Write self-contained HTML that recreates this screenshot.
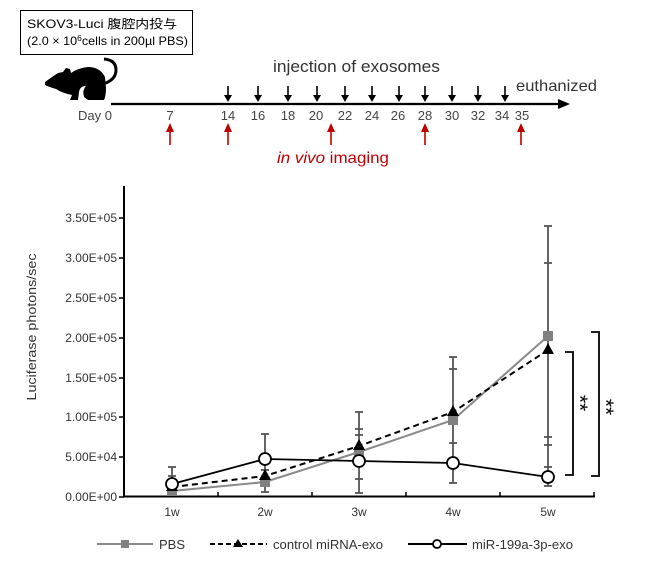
<!DOCTYPE html>
<html><head><meta charset="utf-8"><style>
html,body{margin:0;padding:0;background:#fff;}
svg{display:block;}
text{font-family:"Liberation Sans","Noto Sans CJK JP",sans-serif;}
</style></head><body>
<svg width="650" height="570" viewBox="0 0 650 570" xmlns="http://www.w3.org/2000/svg">
<rect width="650" height="570" fill="#fff"/>
<!-- info box -->
<rect x="20.5" y="10.5" width="172" height="44" fill="#fff" stroke="#000" stroke-width="1"/>
<text x="27" y="28" font-size="12" fill="#000" textLength="150" lengthAdjust="spacingAndGlyphs">SKOV3-Luci 腹腔内投与</text>
<text x="27" y="45" font-size="12" fill="#000" textLength="161" lengthAdjust="spacingAndGlyphs">(2.0 × 10<tspan font-size="8" dy="-4">6</tspan><tspan dy="4">cells in 200µl PBS)</tspan></text>
<!-- mouse -->
<path d="M45,82 L52,77 L58,73 L63,72 L66,68 L70,69 L71,73 Q78,68 88,67 Q100,67 105,77 L106,88 Q106,96 104,100 L88,100 L84,97 Q82,90 86,86 Q80,86 79,92 L78,100 L70,100 L72,95 Q62,93 56,89 Q49,87 45,85 Z" fill="#000"/>
<path d="M103,84 Q116,80 116,70 Q116,60 104,59" fill="none" stroke="#000" stroke-width="3"/>
<!-- timeline -->
<line x1="111" y1="104" x2="560" y2="104" stroke="#000" stroke-width="2.2"/>
<polygon points="558,99 570,104 558,109" fill="#000"/>
<text x="273" y="72" font-size="17" fill="#333" textLength="167" lengthAdjust="spacingAndGlyphs">injection of exosomes</text>
<text x="516" y="91" font-size="16" fill="#333" textLength="81" lengthAdjust="spacingAndGlyphs">euthanized</text>
<g font-size="13" fill="#444" text-anchor="middle">
<text x="95" y="120">Day 0</text>
<text x="170" y="120">7</text>
<text x="228" y="120">14</text>
<text x="258" y="120">16</text>
<text x="288" y="120">18</text>
<text x="316" y="120">20</text>
<text x="345" y="120">22</text>
<text x="372" y="120">24</text>
<text x="398" y="120">26</text>
<text x="425" y="120">28</text>
<text x="452" y="120">30</text>
<text x="478" y="120">32</text>
<text x="502" y="120">34</text>
<text x="522" y="120">35</text>
</g>
<!-- black down arrows -->
<g stroke="#000" stroke-width="1.6" fill="#000">
<g id="da"><line x1="228" y1="86" x2="228" y2="96"/><polygon points="224,95 232,95 228,102" stroke="none"/></g>
<use href="#da" x="30"/><use href="#da" x="60"/><use href="#da" x="89"/><use href="#da" x="117"/><use href="#da" x="144"/><use href="#da" x="171"/><use href="#da" x="197"/><use href="#da" x="224"/><use href="#da" x="250"/><use href="#da" x="277"/>
</g>
<!-- red up arrows -->
<g stroke="#c00000" stroke-width="1.6" fill="#c00000">
<g id="ua"><line x1="170" y1="131" x2="170" y2="145"/><polygon points="166,132 174,132 170,123" stroke="none"/></g>
<use href="#ua" x="58"/><use href="#ua" x="161"/><use href="#ua" x="255"/><use href="#ua" x="351"/>
</g>
<text x="277" y="163" font-size="16" fill="#c00000" textLength="112" lengthAdjust="spacingAndGlyphs"><tspan font-style="italic">in vivo</tspan> imaging</text>

<!-- chart axes -->
<line x1="124" y1="186" x2="124" y2="497" stroke="#000" stroke-width="2"/>
<line x1="123" y1="496.5" x2="595" y2="496.5" stroke="#000" stroke-width="2"/>
<g stroke="#000" stroke-width="1.5">
<line x1="119" y1="218" x2="124" y2="218"/>
<line x1="119" y1="258" x2="124" y2="258"/>
<line x1="119" y1="298" x2="124" y2="298"/>
<line x1="119" y1="338" x2="124" y2="338"/>
<line x1="119" y1="378" x2="124" y2="378"/>
<line x1="119" y1="417" x2="124" y2="417"/>
<line x1="119" y1="457" x2="124" y2="457"/>
<line x1="119" y1="497" x2="124" y2="497"/>
<line x1="218" y1="492" x2="218" y2="497"/>
<line x1="312" y1="492" x2="312" y2="497"/>
<line x1="406" y1="492" x2="406" y2="497"/>
<line x1="500" y1="492" x2="500" y2="497"/>
<line x1="594" y1="492" x2="594" y2="497"/>
</g>
<g font-size="12" fill="#333" text-anchor="end">
<text x="117" y="222">3.50E+05</text>
<text x="117" y="262">3.00E+05</text>
<text x="117" y="302">2.50E+05</text>
<text x="117" y="342">2.00E+05</text>
<text x="117" y="382">1.50E+05</text>
<text x="117" y="421">1.00E+05</text>
<text x="117" y="461">5.00E+04</text>
<text x="117" y="501">0.00E+00</text>
</g>
<text transform="translate(36,327) rotate(-90)" font-size="13" fill="#333" text-anchor="middle" textLength="147" lengthAdjust="spacingAndGlyphs">Luciferase photons/sec</text>
<g font-size="12" fill="#333" text-anchor="middle">
<text x="172" y="516">1w</text>
<text x="265" y="516">2w</text>
<text x="359" y="516">3w</text>
<text x="453" y="516">4w</text>
<text x="548" y="516">5w</text>
</g>

<!-- error bars -->
<g stroke="#555" stroke-width="1.8" fill="none">
<line x1="172" y1="467" x2="172" y2="496"/><line x1="168" y1="467" x2="176" y2="467"/><line x1="168" y1="476" x2="176" y2="476"/>
<line x1="265" y1="434" x2="265" y2="492"/><line x1="261" y1="434" x2="269" y2="434"/><line x1="261" y1="492" x2="269" y2="492"/><line x1="261" y1="470" x2="269" y2="470"/>
<line x1="359" y1="412" x2="359" y2="493"/><line x1="355" y1="412" x2="363" y2="412"/><line x1="355" y1="429" x2="363" y2="429"/><line x1="355" y1="435" x2="363" y2="435"/><line x1="355" y1="479" x2="363" y2="479"/><line x1="355" y1="493" x2="363" y2="493"/>
<line x1="453" y1="357" x2="453" y2="483"/><line x1="449" y1="357" x2="457" y2="357"/><line x1="449" y1="369" x2="457" y2="369"/><line x1="449" y1="443" x2="457" y2="443"/><line x1="449" y1="483" x2="457" y2="483"/>
<line x1="548" y1="226" x2="548" y2="486"/><line x1="544" y1="226" x2="552" y2="226"/><line x1="544" y1="263" x2="552" y2="263"/><line x1="544" y1="437" x2="552" y2="437"/><line x1="544" y1="445" x2="552" y2="445"/><line x1="544" y1="467" x2="552" y2="467"/><line x1="544" y1="486" x2="552" y2="486"/>
</g>
<!-- series lines -->
<polyline points="172,491 265,482 359,452 453,420 548,336" fill="none" stroke="#8a8a8a" stroke-width="2"/>
<polyline points="172,487 265,476 359,446 453,412 548,350" fill="none" stroke="#000" stroke-width="2" stroke-dasharray="6,4"/>
<polyline points="172,484 265,459 359,461 453,463 548,477" fill="none" stroke="#000" stroke-width="1.8"/>
<!-- markers PBS -->
<g fill="#808080">
<rect x="167" y="486" width="10" height="10"/>
<rect x="260" y="477" width="10" height="10"/>
<rect x="354" y="447" width="10" height="10"/>
<rect x="448" y="415" width="10" height="10"/>
<rect x="543" y="331" width="10" height="10"/>
</g>
<!-- markers control -->
<g fill="#000">
<polygon points="172,481 166,491 178,491"/>
<polygon points="265,469 259,480 271,480"/>
<polygon points="359,439 353,450 365,450"/>
<polygon points="453,405 447,416 459,416"/>
<polygon points="548,343 542,354 554,354"/>
</g>
<!-- markers miR -->
<g fill="#fff" stroke="#000" stroke-width="1.8">
<circle cx="172" cy="484" r="6"/>
<circle cx="265" cy="459" r="6"/>
<circle cx="359" cy="461" r="6"/>
<circle cx="453" cy="463" r="6"/>
<circle cx="548" cy="477" r="6"/>
</g>
<!-- significance brackets -->
<polyline points="565,352 573,352 573,475 565,475" fill="none" stroke="#000" stroke-width="1.8"/>
<polyline points="591,332 599,332 599,476 591,476" fill="none" stroke="#000" stroke-width="1.8"/>
<text transform="translate(573,403) rotate(90)" font-size="21" fill="#000" text-anchor="middle">**</text>
<text transform="translate(599,407) rotate(90)" font-size="21" fill="#000" text-anchor="middle">**</text>

<!-- legend -->
<line x1="97" y1="544" x2="153" y2="544" stroke="#8a8a8a" stroke-width="2"/>
<rect x="121" y="540" width="8" height="8" fill="#808080"/>
<text x="159" y="549" font-size="13" fill="#333">PBS</text>
<line x1="210" y1="544" x2="267" y2="544" stroke="#000" stroke-width="2" stroke-dasharray="5,3"/>
<polygon points="238,539 233,547 243,547" fill="#000"/>
<text x="273" y="549" font-size="13" fill="#333" textLength="110" lengthAdjust="spacingAndGlyphs">control miRNA-exo</text>
<line x1="408" y1="544" x2="467" y2="544" stroke="#000" stroke-width="2"/>
<circle cx="437" cy="544" r="4" fill="#fff" stroke="#000" stroke-width="1.8"/>
<text x="472" y="549" font-size="13" fill="#333" textLength="101" lengthAdjust="spacingAndGlyphs">miR-199a-3p-exo</text>
</svg>
</body></html>
